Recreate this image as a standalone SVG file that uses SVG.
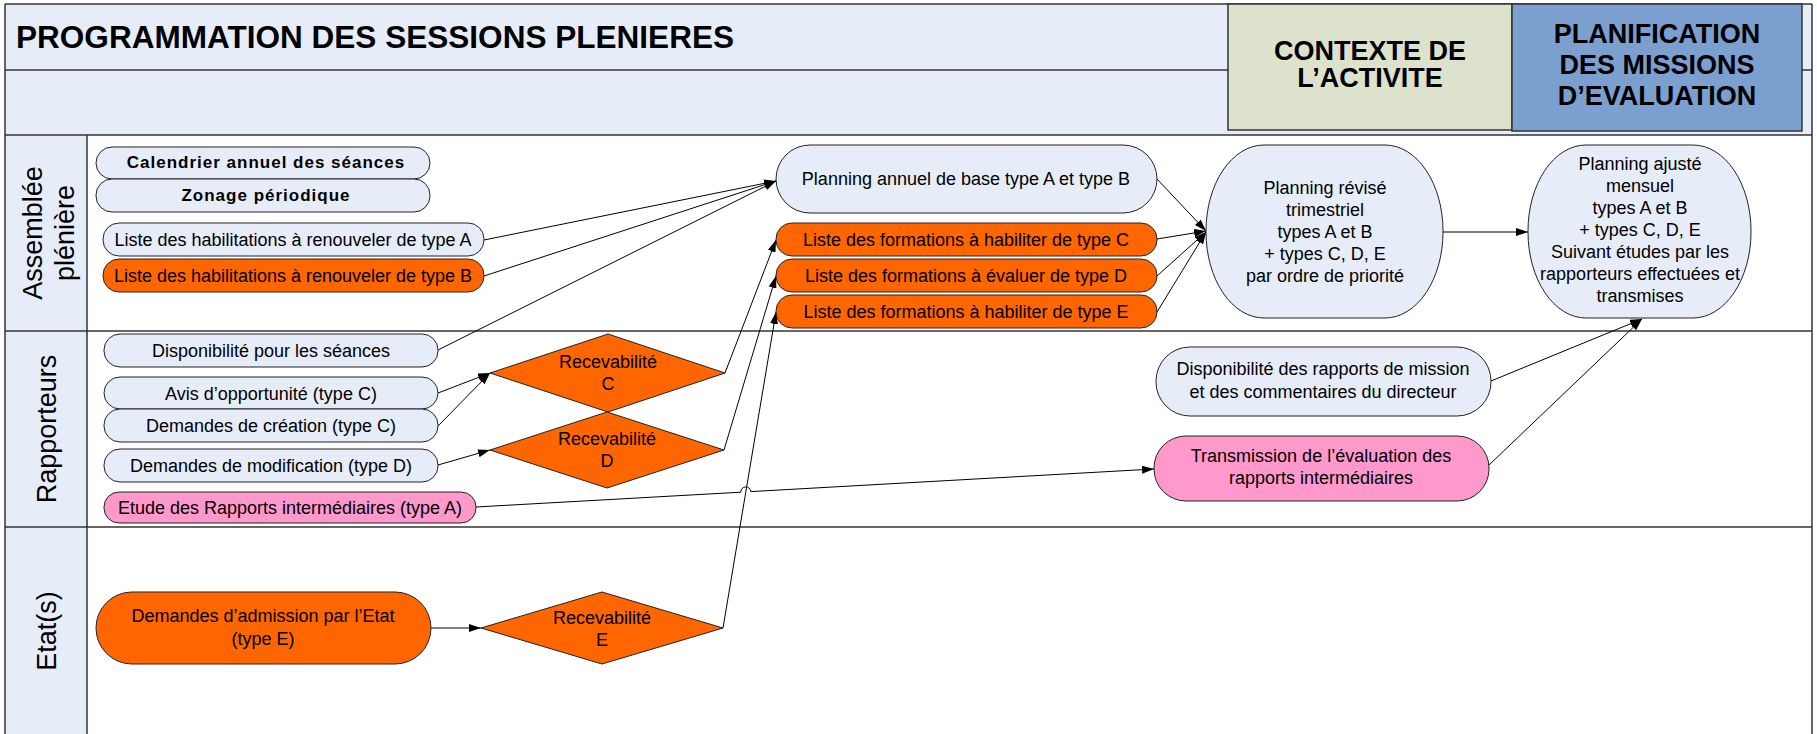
<svg xmlns="http://www.w3.org/2000/svg" width="1817" height="734" viewBox="0 0 1817 734">
<style>
.band{fill:#e6edf8;stroke:none}
.frame{fill:none;stroke:#333;stroke-width:1.5}
.lt{fill:#e6edf8;stroke:#222;stroke-width:1}
.or{fill:#ff6600;stroke:#222;stroke-width:1}
.pk{fill:#ff99cc;stroke:#222;stroke-width:1}
.t{font-family:"Liberation Sans",Arial,sans-serif;font-size:18px;fill:#000;text-anchor:middle}
.tb{font-family:"Liberation Sans",Arial,sans-serif;font-size:17px;font-weight:bold;letter-spacing:1px;fill:#000;text-anchor:middle}
.hd{font-family:"Liberation Sans",Arial,sans-serif;font-size:27px;font-weight:bold;fill:#000;text-anchor:middle}
.ln{font-family:"Liberation Sans",Arial,sans-serif;font-size:27px;fill:#000;text-anchor:middle}
.c{fill:none;stroke:#000;stroke-width:1;marker-end:url(#arr)}
</style>
<defs>
<marker id="arr" viewBox="0 0 12 8" refX="12" refY="4" markerWidth="12" markerHeight="8" orient="auto" markerUnits="userSpaceOnUse">
<path d="M0,0 L12,4 L0,8 z" fill="#000"/>
</marker>
</defs>
<rect x="0" y="0" width="1817" height="734" fill="#ffffff"/>
<g id="frame">
<rect class="band" x="5" y="4" width="1807" height="131"/>
<rect class="band" x="5" y="135" width="82" height="599"/>
<line class="frame" x1="5" y1="4" x2="1812" y2="4"/>
<line class="frame" x1="5" y1="70" x2="1812" y2="70"/>
<line class="frame" x1="5" y1="135" x2="1812" y2="135"/>
<line class="frame" x1="5" y1="331" x2="1812" y2="331"/>
<line class="frame" x1="5" y1="527" x2="1812" y2="527"/>
<line class="frame" x1="5" y1="4" x2="5" y2="734"/>
<line class="frame" x1="1812" y1="4" x2="1812" y2="734"/>
<line class="frame" x1="87" y1="135" x2="87" y2="734"/>
<text x="16" y="48" font-family="Liberation Sans, Arial, sans-serif" font-size="32" font-weight="bold" textLength="718" lengthAdjust="spacingAndGlyphs">PROGRAMMATION DES SESSIONS PLENIERES</text>
</g>
<g id="contexte">
<rect x="1228" y="4" width="284" height="126" fill="#dde2cd" stroke="#333" stroke-width="1.5"/>
<text class="hd" x="1370" y="60">CONTEXTE DE</text>
<text class="hd" x="1370" y="87">L’ACTIVITE</text>
</g>
<g id="planification">
<rect x="1512" y="4" width="290" height="127" fill="#7b9fcf" stroke="#333" stroke-width="1.5"/>
<text class="hd" x="1657" y="43">PLANIFICATION</text>
<text class="hd" x="1657" y="74">DES MISSIONS</text>
<text class="hd" x="1657" y="105">D’EVALUATION</text>
</g>
<g id="lane-assemblee">
<text class="ln" transform="translate(42,233) rotate(-90)">Assemblée</text>
<text class="ln" transform="translate(74,233) rotate(-90)">plénière</text>
</g>
<g id="lane-rapporteurs">
<text class="ln" transform="translate(56,429) rotate(-90)">Rapporteurs</text>
</g>
<g id="lane-etats">
<text class="ln" transform="translate(56,631) rotate(-90)">Etat(s)</text>
</g>
<g id="connectors">
<path class="c" d="M484,240 L776,181"/>
<path class="c" d="M484,276 L776,181"/>
<path class="c" d="M438,350 L776,181"/>
<path class="c" d="M1157,179 L1206,231"/>
<path class="c" d="M1157,239 L1206,231"/>
<path class="c" d="M1157,276 L1206,232"/>
<path class="c" d="M1157,312 L1206,232"/>
<path class="c" d="M1443,232 L1528,232"/>
<path class="c" d="M438,393 L490,373"/>
<path class="c" d="M438,426 L490,373"/>
<path class="c" d="M438,465 L490,450"/>
<path class="c" d="M725,373 L776,240"/>
<path class="c" d="M724,450 L776,276"/>
<path class="c" d="M723,628 L776,312"/>
<path class="c" d="M431,628 L481,628"/>
<path class="c" d="M476,507 L740.8,492.2 A5,5 0 0 1 750.8,491.6 L1154,469"/>
<path class="c" d="M1491,381 L1642,319"/>
<path class="c" d="M1489,465 L1642,319"/>
</g>
<g id="calendrier">
<rect class="lt" x="96" y="147" width="334" height="32" rx="16"/>
<text class="tb" x="266" y="168">Calendrier annuel des séances</text>
</g>
<g id="zonage">
<rect class="lt" x="96" y="179" width="334" height="33" rx="16"/>
<text class="tb" x="266" y="201">Zonage périodique</text>
</g>
<g id="liste-a">
<rect class="lt" x="103" y="223" width="381" height="33" rx="16"/>
<text class="t" x="293" y="246">Liste des habilitations à renouveler de type A</text>
</g>
<g id="liste-b">
<rect class="or" x="103" y="259" width="381" height="33" rx="16"/>
<text class="t" x="293" y="282">Liste des habilitations à renouveler de type B</text>
</g>
<g id="planning-annuel">
<rect class="lt" x="776" y="145" width="381" height="68" rx="34"/>
<text class="t" x="966" y="185">Planning annuel de base type A et type B</text>
</g>
<g id="liste-c">
<rect class="or" x="776" y="223" width="381" height="33" rx="16"/>
<text class="t" x="966" y="246">Liste des formations à habiliter de type C</text>
</g>
<g id="liste-d">
<rect class="or" x="776" y="259" width="381" height="33" rx="16"/>
<text class="t" x="966" y="282">Liste des formations à évaluer de type D</text>
</g>
<g id="liste-e">
<rect class="or" x="776" y="295" width="381" height="33" rx="16"/>
<text class="t" x="966" y="318">Liste des formations à habiliter de type E</text>
</g>
<g id="planning-revise">
<rect class="lt" x="1206" y="145" width="237" height="173" rx="58" ry="86"/>
<text class="t" x="1325" y="194">Planning révisé</text>
<text class="t" x="1325" y="216">trimestriel</text>
<text class="t" x="1325" y="238">types A et B</text>
<text class="t" x="1325" y="260">+ types C, D, E</text>
<text class="t" x="1325" y="282">par ordre de priorité</text>
</g>
<g id="planning-ajuste">
<rect class="lt" x="1528" y="145" width="223" height="173" rx="58" ry="86"/>
<text class="t" x="1640" y="170">Planning ajusté</text>
<text class="t" x="1640" y="192">mensuel</text>
<text class="t" x="1640" y="214">types A et B</text>
<text class="t" x="1640" y="236">+ types C, D, E</text>
<text class="t" x="1640" y="258">Suivant études par les</text>
<text class="t" x="1640" y="280">rapporteurs effectuées et</text>
<text class="t" x="1640" y="302">transmises</text>
</g>
<g id="disponibilite-seances">
<rect class="lt" x="104" y="334" width="334" height="33" rx="16"/>
<text class="t" x="271" y="357">Disponibilité pour les séances</text>
</g>
<g id="avis">
<rect class="lt" x="104" y="377" width="334" height="32" rx="16"/>
<text class="t" x="271" y="400">Avis d’opportunité (type C)</text>
</g>
<g id="demandes-creation">
<rect class="lt" x="104" y="409" width="334" height="33" rx="16"/>
<text class="t" x="271" y="432">Demandes de création (type C)</text>
</g>
<g id="demandes-modification">
<rect class="lt" x="104" y="449" width="334" height="33" rx="16"/>
<text class="t" x="271" y="472">Demandes de modification (type D)</text>
</g>
<g id="etude">
<rect class="pk" x="104" y="492" width="372" height="31" rx="15"/>
<text class="t" x="290" y="514">Etude des Rapports intermédiaires (type A)</text>
</g>
<g id="recevabilite-c">
<polygon class="or" points="490,373 608,334 725,373 608,412"/>
<text class="t" x="608" y="368">Recevabilité</text>
<text class="t" x="608" y="390">C</text>
</g>
<g id="recevabilite-d">
<polygon class="or" points="490,450 607,412 724,450 607,488"/>
<text class="t" x="607" y="445">Recevabilité</text>
<text class="t" x="607" y="467">D</text>
</g>
<g id="disponibilite-rapports">
<rect class="lt" x="1156" y="347" width="335" height="69" rx="34"/>
<text class="t" x="1323" y="375">Disponibilité des rapports de mission</text>
<text class="t" x="1323" y="398">et des commentaires du directeur</text>
</g>
<g id="transmission">
<rect class="pk" x="1154" y="436" width="335" height="65" rx="32"/>
<text class="t" x="1321" y="462">Transmission de l’évaluation des</text>
<text class="t" x="1321" y="484">rapports intermédiaires</text>
</g>
<g id="demandes-admission">
<rect class="or" x="96" y="592" width="335" height="72" rx="36"/>
<text class="t" x="263" y="622">Demandes d’admission par l’Etat</text>
<text class="t" x="263" y="645">(type E)</text>
</g>
<g id="recevabilite-e">
<polygon class="or" points="481,628 602,592 723,628 602,664"/>
<text class="t" x="602" y="624">Recevabilité</text>
<text class="t" x="602" y="646">E</text>
</g>
</svg>
